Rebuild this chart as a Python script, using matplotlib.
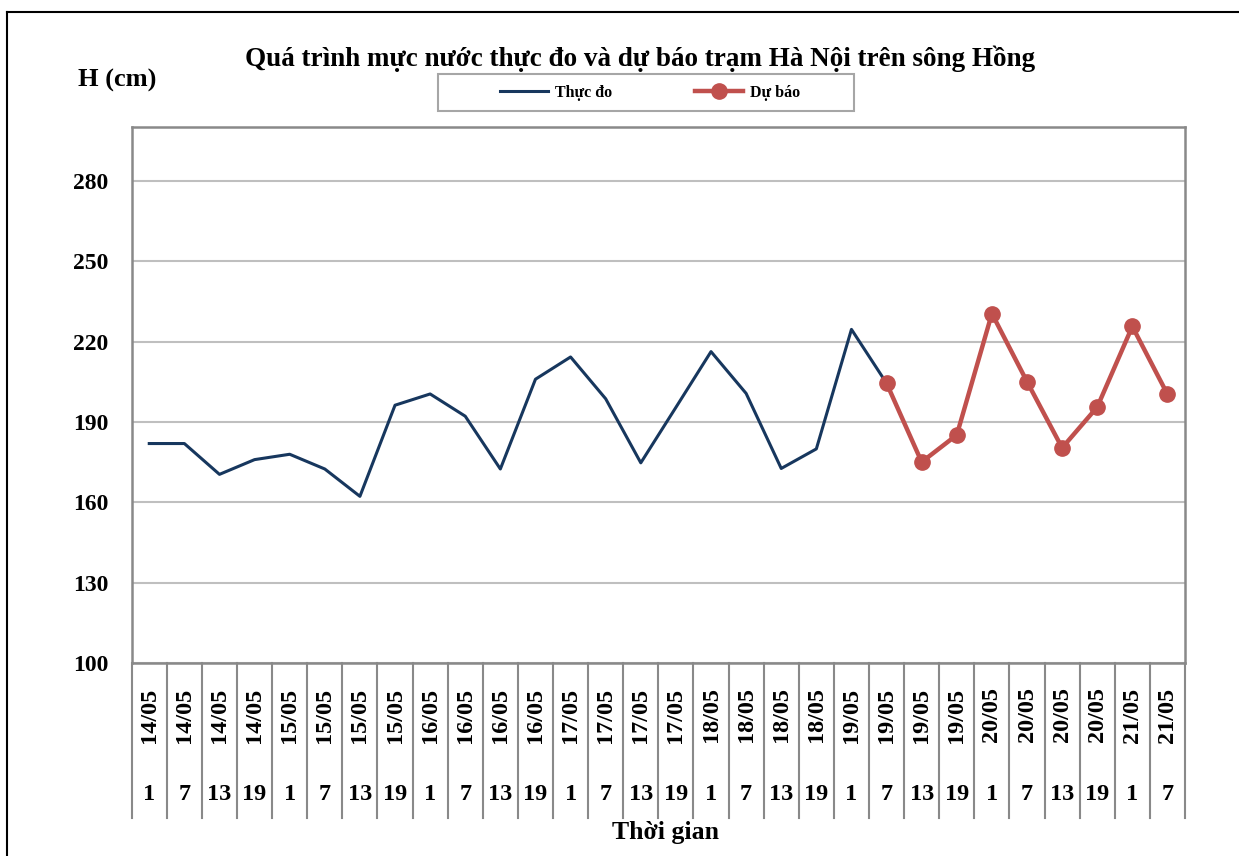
import numpy as np
import matplotlib
matplotlib.use("Agg")
import matplotlib.pyplot as plt
from matplotlib.lines import Line2D
from matplotlib.patches import Rectangle
import matplotlib.transforms as mtransforms

plt.rcParams['font.family'] = ['Liberation Serif', 'DejaVu Serif']
plt.rcParams['font.weight'] = 'bold'

# du lieu
ngay = ['14/05'] * 4 + ['15/05'] * 4 + ['16/05'] * 4 + ['17/05'] * 4 + \
       ['18/05'] * 4 + ['19/05'] * 4 + ['20/05'] * 4 + ['21/05'] * 2
gio = ['1', '7', '13', '19'] * 7 + ['1', '7']
thuc_do = [182, 182, 170.5, 176, 178, 172.5, 162.3, 196.3, 200.5, 192.2,
           172.5, 206, 214.3, 198.7, 174.8, 195.5, 216.3, 200.7, 172.7, 180,
           224.6, 204.5]
du_bao = [204.5, 175.1, 185.2, 230.5, 205.1, 180.4, 195.6, 225.7, 200.4]
yticks = [100, 130, 160, 190, 220, 250, 280]

W, H = 1239, 856
fig = plt.figure(figsize=(W / 100, H / 100), dpi=100)
ax = fig.add_axes([131.7 / W, 1 - 663.3 / H, (1185 - 131.7) / W, (663.3 - 127.3) / H])

x_td = np.arange(len(thuc_do))
x_db = np.arange(len(thuc_do) - 1, len(thuc_do) - 1 + len(du_bao))

ax.plot(x_td, thuc_do, color='#17375e', lw=2.2, label='Thực đo', zorder=3)
ax.plot(x_db, du_bao, color='#c0504d', lw=3.2, marker='o', ms=11,
        label='Dự báo', zorder=4)

ax.set_xlim(-0.5, len(ngay) - 0.5)
ax.set_ylim(100, 300)
ax.set_yticks(yticks)
ax.set_yticklabels([str(v) for v in yticks], fontsize=17, fontweight='bold')
ax.tick_params(axis='y', length=0, pad=17)
ax.set_xticks([])
ax.grid(axis='y', color='#bfbfbf', lw=1.5)
ax.set_axisbelow(True)
for s in ax.spines.values():
    s.set_color('#898989')
    s.set_linewidth(1.8)

# truc danh muc nhieu cap
trans = mtransforms.blended_transform_factory(ax.transData, ax.transAxes)
ah = (663.3 - 127.3)
for i in range(len(ngay) + 1):
    ax.plot([i - 0.5, i - 0.5], [0, -(818 - 663.3) / ah], transform=trans,
            color='#898989', lw=1.5, clip_on=False)
for i, (d, g) in enumerate(zip(ngay, gio)):
    ax.text(i, -(715 - 663.3) / ah, d, transform=trans, rotation=90,
            ha='center', va='center', fontsize=17.5, fontweight='bold')
    ax.text(i, -(794 - 663.3) / ah, g, transform=trans,
            ha='center', va='center', fontsize=17.5, fontweight='bold')

fig.text(640 / W, 1 - 59 / H, 'Quá trình mực nước thực đo và dự báo trạm Hà Nội trên sông Hồng',
         ha='center', va='center', fontsize=19.5, fontweight='bold')
fig.text(78 / W, 1 - 80 / H, 'H (cm)', ha='left', va='center',
         fontsize=19, fontweight='bold')
fig.text(665 / W, 1 - 832 / H, 'Thời gian', ha='center', va='center',
         fontsize=18.5, fontweight='bold')

# chu giai
fig.add_artist(Rectangle((438 / W, 1 - 111 / H), (854 - 438) / W, 37 / H,
                         transform=fig.transFigure, fill=False,
                         edgecolor='#a6a6a6', lw=1.5))
leg = fig.legend(loc='center', bbox_to_anchor=(650 / W, 1 - 93 / H), ncol=2,
                 frameon=False, handlelength=3.0, handletextpad=0.45,
                 columnspacing=5.2, prop={'weight': 'bold', 'size': 11.5})

# vien khung
fig.add_artist(Line2D([7 / W, 7 / W], [0, 1 - 12 / H], color='black', lw=1.5))
fig.add_artist(Line2D([7 / W, 1], [1 - 12 / H, 1 - 12 / H], color='black', lw=1.5))

fig.savefig('out.png', dpi=100)
